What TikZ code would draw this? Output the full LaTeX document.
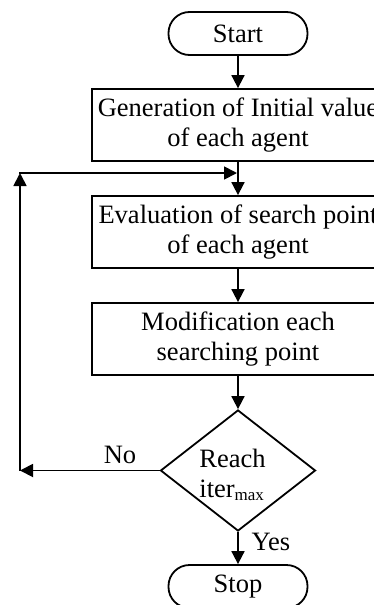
\documentclass[tikz,border=0pt]{standalone}
\usepackage{fontspec}
\setmainfont{Liberation Serif}
\usetikzlibrary{shapes.geometric,arrows.meta}
\newcommand{\lowsub}[1]{\raisebox{-3pt}{\fontsize{17}{17}\selectfont #1}}
\begin{document}
\begin{tikzpicture}[x=1pt,y=-1pt,
  line width=1.8pt,
  txt/.style={font=\fontsize{26.5}{30}\selectfont},
  flow/.style={-{Triangle[length=13pt,width=13pt]}},
  term/.style={draw, txt, rectangle, rounded corners=21pt,
    minimum width=139pt, minimum height=43pt, inner sep=0pt},
  stepbox/.style={draw, txt, rectangle, align=center,
    minimum width=292pt, minimum height=72pt, inner sep=0pt},
  decide/.style={draw, diamond, minimum width=155pt, minimum height=121pt,
    inner sep=0pt}]
\useasboundingbox (0,0) rectangle (374,605);
\clip (0,0) rectangle (374,605);

% process chain
\node[term] (start) at (238,33.5) {Start};
\node[stepbox] (gen) at (238,125) {Generation of Initial value\\of each agent};
\node[stepbox] (eval) at (238,232) {Evaluation of search point\\of each agent};
\node[stepbox] (mod) at (238,339) {Modification each\\searching point};
\node[decide] (dec) at (238,470.5) {};
\node[txt, align=left, inner sep=0pt] (dectext) at (232.5,475) {Reach\\iter\lowsub{max}};
\node[term] (stop) at (238,586.5) {Stop};

% loop-back route
\coordinate (lb) at (20,470.5);
\coordinate (lt) at (20,173);
\coordinate (lj) at (238,173);

\draw[flow] (start) -- (gen);
\draw[flow] (gen) -- (eval);
\draw[flow] (eval) -- (mod);
\draw[flow] (mod) -- (dec.north);
\draw[flow] (dec.south) -- (stop);
\draw[flow] (dec.west) -- (lb);
\draw[flow] (lb) -- (lt);
\draw[flow, shorten >=1pt] ([xshift=-0.9pt]lt) -- (lj);

% branch labels
\node[txt, inner sep=0pt] (nolab) at (120,455) {No};
\node[txt, inner sep=0pt] (yeslab) at (271,542) {Yes};
\end{tikzpicture}
\end{document}
